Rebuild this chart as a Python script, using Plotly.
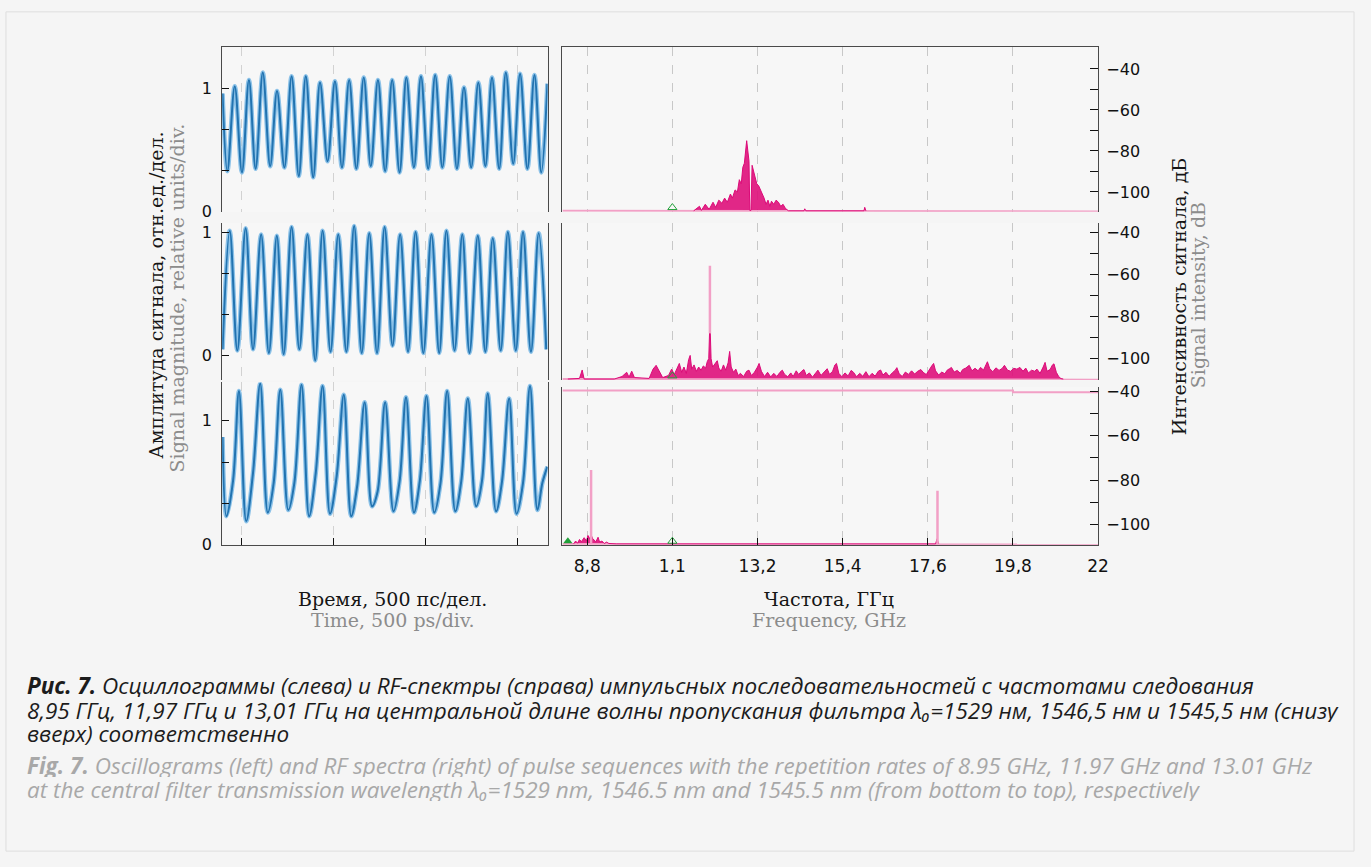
import plotly.graph_objects as go

W, H = 1371, 867

# ---------------- data ----------------
# Oscillograms (time in ps, amplitude in relative units) - extrema
TOP_T = [-100, -74, -34, 5, 43, 79, 118, 158, 195, 235, 274, 313, 351, 391, 428, 469, 509, 547, 586, 625,
         665, 703, 742, 781, 819, 859, 896, 937, 975, 1014, 1052, 1091, 1131, 1170, 1208, 1247, 1286, 1324,
         1360, 1399, 1435, 1475, 1512, 1552, 1590, 1627, 1660]
TOP_V = [0.96, 0.33, 1.02, 0.32, 1.07, 0.35, 1.13, 0.37, 0.98, 0.36, 1.10, 0.29, 1.10, 0.28, 1.05, 0.41,
         1.06, 0.36, 1.07, 0.35, 1.09, 0.37, 1.07, 0.33, 1.07, 0.32, 1.09, 0.36, 1.10, 0.35, 1.11, 0.36,
         1.10, 0.35, 1.01, 0.36, 1.05, 0.37, 1.09, 0.35, 1.13, 0.39, 1.12, 0.35, 1.11, 0.32, 1.04]

MID_T = [-100, -61, -20, 25, 65, 109, 151, 194, 231, 274, 316, 360, 402, 442, 485, 527, 571, 613, 654,
         695, 737, 778, 821, 862, 905, 946, 988, 1032, 1074, 1113, 1157, 1199, 1238, 1283, 1324, 1364,
         1407, 1446, 1489, 1528, 1571, 1613, 1654]
MID_V = [0.05, 1.01, 0.04, 1.03, 0.05, 0.98, 0.02, 0.97, 0.01, 1.04, 0.05, 0.98, -0.04, 1.01, 0.03, 0.98,
         0.03, 1.05, 0.02, 0.99, 0.02, 1.04, 0.08, 0.98, 0.03, 1.00, 0.02, 0.98, 0.02, 1.01, 0.04, 0.98,
         0.02, 0.97, 0.03, 0.95, 0.04, 1.00, 0.04, 1.00, 0.03, 0.99, 0.05]

BOT_T = [-100, -79, -43, -11, 28, 65, 104, 145, 177, 213, 256, 289, 328, 369, 405, 442, 482, 518, 557,
         597, 629, 670, 710, 740, 781, 826, 859, 894, 937, 969, 1005, 1047, 1081, 1117, 1161, 1193, 1229,
         1274, 1306, 1337, 1382, 1414, 1453, 1493, 1528, 1566, 1606, 1633, 1660]
BOT_V = [0.87, 0.23, 0.52, 1.24, 0.19, 0.58, 1.30, 0.26, 0.50, 1.25, 0.28, 0.50, 1.29, 0.23, 0.58, 1.28,
         0.25, 0.55, 1.21, 0.23, 0.47, 1.15, 0.31, 0.43, 1.15, 0.27, 0.51, 1.19, 0.26, 0.52, 1.20, 0.26,
         0.50, 1.24, 0.27, 0.51, 1.18, 0.31, 0.52, 1.22, 0.27, 0.51, 1.18, 0.25, 0.50, 1.28, 0.28, 0.50, 0.63]

TIME_TICKS = [0, 500, 1000, 1500]

# RF spectra (frequency GHz, level dB)
FREQ_TICKS = [8.8, 11.0, 13.2, 15.4, 17.6, 19.8, 22.0]
FREQ_TICKTEXT = ["8,8", "1,1", "13,2", "15,4", "17,6", "19,8", "22"]
DB_TICKS = [-40, -50, -60, -70, -80, -90, -100]
DB_TICKTEXT = ["\u221240", " ", "\u221260", " ", "\u221280", " ", "\u2212100"]

FLOOR_TOP, FLOOR_MID, FLOOR_BOT = -109.2, -109.7, -108.8

TOP_F = [11.55, 11.70, 11.75, 11.85, 11.95, 12.05, 12.12, 12.20, 12.28, 12.35, 12.42, 12.50, 12.55, 12.62,
         12.68, 12.73, 12.78, 12.82, 12.86, 12.89, 12.92, 12.95, 12.98, 13.00, 13.03, 13.06, 13.10, 13.14,
         13.18, 13.23, 13.28, 13.33, 13.37, 13.42, 13.47, 13.52, 13.56, 13.62, 13.68, 13.74, 13.80, 13.86,
         13.92, 14.00, 14.40, 14.42, 14.45, 15.95, 15.97, 16.00]
TOP_DB = [-109.2, -107, -109, -106, -108.5, -105, -107.5, -104, -105.5, -103, -105, -101, -103, -99,
          -100, -94, -96, -88, -86, -80, -75, -80, -85, -109, -109, -87, -90, -92,
          -96, -97, -99, -101, -103, -106, -104, -107, -104.5, -106, -104, -105, -107, -106,
          -108, -109.2, -109.2, -108.2, -109.2, -109.2, -107.5, -109.2]

MID_F = [8.30, 8.60, 8.67, 8.72, 9.50, 9.70, 9.82, 9.88, 9.95, 10.02, 10.40, 10.50, 10.58, 10.66, 10.75,
         10.90, 10.98, 11.05, 11.12, 11.18, 11.24, 11.30, 11.36, 11.42, 11.46, 11.50, 11.56, 11.62, 11.68,
         11.74, 11.80, 11.86, 11.90, 11.94, 11.96, 11.98, 12.00, 12.04, 12.10, 12.16, 12.20, 12.26, 12.32,
         12.38, 12.44, 12.48, 12.52, 12.58, 12.64, 12.70, 12.76, 12.84, 12.92, 12.98, 13.04, 13.12, 13.20,
         13.24, 13.30, 13.38, 13.46, 13.54, 13.62, 13.70, 13.78, 13.84, 13.90, 13.98, 14.06, 14.12, 14.20,
         14.26, 14.34, 14.40, 14.46, 14.54, 14.62, 14.70, 14.76, 14.84, 14.92, 15.00, 15.06, 15.14, 15.20,
         15.24, 15.30, 15.38, 15.46, 15.54, 15.62, 15.68, 15.76, 15.84, 15.92, 16.00, 16.08, 16.16, 16.24,
         16.32, 16.38, 16.44, 16.52, 16.60, 16.68, 16.76, 16.80, 16.86, 16.94, 17.02, 17.10, 17.18, 17.26,
         17.34, 17.42, 17.48, 17.56, 17.64, 17.70, 17.75, 17.80, 17.88, 17.96, 18.04, 18.10, 18.16, 18.21,
         18.28, 18.36, 18.44, 18.50, 18.58, 18.67, 18.74, 18.82, 18.90, 18.96, 19.04, 19.10, 19.14, 19.20,
         19.28, 19.36, 19.44, 19.52, 19.58, 19.66, 19.74, 19.82, 19.90, 19.98, 20.06, 20.13, 20.20, 20.28,
         20.36, 20.42, 20.50, 20.58, 20.63, 20.68, 20.76, 20.82, 20.86, 20.92, 20.98, 21.04, 21.10]
MID_DB = [-109.7, -109.4, -105.4, -109.7, -109.7, -108.5, -106.5, -108.8, -106, -109, -109.4, -105, -103.2,
          -106, -109, -108, -105, -107.5, -104.5, -102.3, -106.5, -104, -107, -100.5, -98.5, -105, -103,
          -106, -104, -105.5, -103.5, -104.5, -101.5, -100, -88, -88, -100, -104, -102.5, -101, -104.5,
          -106, -103, -105.5, -102, -96.6, -104, -106.5, -105, -108, -107, -108.5, -106, -105.5, -108,
          -106.5, -104, -102.3, -106, -108.5, -106.5, -108.7, -107, -108.5, -106.5, -105.5, -107.5, -108.6,
          -106.8, -108.5, -105.8, -107.5, -106, -105.2, -108, -106.8, -108.8, -107, -105.5, -108, -106.5,
          -104.8, -107.5, -106, -103, -102.3, -107, -108.6, -106.8, -108.2, -105.6, -106.5, -108.6, -107,
          -108.4, -106.2, -108.6, -107, -108.3, -106, -105.4, -107.8, -106.5, -108.4, -106.8, -105.5,
          -104.3, -107.2, -108.5, -106.4, -107.5, -105.8, -107.3, -106, -105.2, -106.5, -107.6, -105,
          -103.5, -102.3, -105.8, -107.8, -106.4, -107.2, -105.5, -104.8, -104.2, -106.4, -105.6, -107,
          -105.2, -104.5, -103.2, -105.8, -104.6, -105.8, -104.2, -105.4, -103.2, -101.5, -104.8, -106.2,
          -104.4, -105.6, -104.7, -103.2, -105.5, -106, -104.6, -105, -104.2, -106, -104.5, -106.8, -105.5,
          -106, -105, -107, -104, -101.8, -106, -105.2, -103, -102.5, -106.5, -108.5, -109.5, -109.7]

BOT_F = [8.45, 8.50, 8.55, 8.60, 8.65, 8.72, 8.78, 8.82, 8.86, 8.90, 8.94, 8.98, 9.02, 9.08, 9.12, 9.18,
         9.24, 9.30, 9.36, 9.45, 9.55, 17.80, 17.84, 17.88]
BOT_DB = [-108.8, -107.5, -108.5, -106.8, -107.8, -106, -107.5, -105, -106.5, -104.6, -106.5, -107, -108,
          -105.8, -108, -107.5, -108.6, -108, -108.6, -108.8, -108.8, -108.8, -106.5, -108.8]

# narrow spectral lines (light pink)
MID_SPIKE_F, MID_SPIKE_DB = [11.97], [-56]
BOT_SPIKE_F, BOT_SPIKE_DB = [8.90, 17.85], [-75.4, -84.8]

# pink trace segments at the panel rims (step at 19.8 GHz)
RIM_F = [8.16, 19.8, 19.8, 22.0]
TOP_RIM_DB = [FLOOR_TOP, FLOOR_TOP, FLOOR_TOP - 0.3, FLOOR_TOP - 0.3]
MID_RIM_DB = [FLOOR_MID, FLOOR_MID, FLOOR_MID - 0.3, FLOOR_MID - 0.3]
BOT_RIM_DB = [FLOOR_BOT, FLOOR_BOT, FLOOR_BOT - 0.3, FLOOR_BOT - 0.3]
BOT_TOPLINE_DB = [-39.6, -39.6, -40.3, -40.3]

# markers (green triangles)
OPEN_MARK_F = [11.0]
TOP_MARK_DB, MID_MARK_DB, BOT_MARK_DB = [-107.6], [-108.2], [-107.6]
BOT_FILLED_F, BOT_FILLED_DB = [8.30], [-107.6]

# ---------------- figure ----------------
BLUE, BLUE_GLOW = "#2273b0", "#8cc2e8"
PINK, PINK_LIGHT = "#dc0a78", "#f2a0c6"
GREEN = "#22a03a"
AX = "#4a4a4a"

fig = go.Figure()


def wave(t, v, n):
    fig.add_trace(go.Scatter(x=t, y=v, xaxis="x%d" % n, yaxis="y%d" % n, mode="lines",
                             line=dict(color=BLUE_GLOW, width=4.5, shape="spline", smoothing=1.0),
                             hoverinfo="skip", showlegend=False))
    fig.add_trace(go.Scatter(x=t, y=v, xaxis="x%d" % n, yaxis="y%d" % n, mode="lines",
                             line=dict(color=BLUE, width=2, shape="spline", smoothing=1.0),
                             showlegend=False))


wave(TOP_T, TOP_V, 1)
wave(MID_T, MID_V, 2)
wave(BOT_T, BOT_V, 3)


def spectrum(f, db, rim_db, n):
    fig.add_trace(go.Scatter(x=RIM_F, y=rim_db, xaxis="x%d" % n, yaxis="y%d" % n, mode="lines",
                             line=dict(color=PINK_LIGHT, width=2), showlegend=False, hoverinfo="skip"))
    fig.add_trace(go.Scatter(x=f, y=db, xaxis="x%d" % n, yaxis="y%d" % n, mode="lines",
                             line=dict(color=PINK, width=1), fill="tonexty",
                             fillcolor="rgba(222,16,122,0.9)", showlegend=False))


spectrum(TOP_F, TOP_DB, TOP_RIM_DB, 4)
spectrum(MID_F, MID_DB, MID_RIM_DB, 5)
spectrum(BOT_F, BOT_DB, BOT_RIM_DB, 6)


def spikes(fs, dbs, floor, n):
    xs, ys = [], []
    for f, d in zip(fs, dbs):
        xs += [f, f, None]
        ys += [floor, d, None]
    fig.add_trace(go.Scatter(x=xs, y=ys, xaxis="x%d" % n, yaxis="y%d" % n, mode="lines",
                             line=dict(color=PINK_LIGHT, width=2.5), showlegend=False))


spikes(MID_SPIKE_F, MID_SPIKE_DB, -88, 5)
spikes(BOT_SPIKE_F, BOT_SPIKE_DB, FLOOR_BOT, 6)

fig.add_trace(go.Scatter(x=RIM_F, y=BOT_TOPLINE_DB, xaxis="x6", yaxis="y6", mode="lines",
                         line=dict(color=PINK_LIGHT, width=2), showlegend=False))

for n, dbs in ((4, TOP_MARK_DB), (5, MID_MARK_DB), (6, BOT_MARK_DB)):
    fig.add_trace(go.Scatter(x=OPEN_MARK_F, y=dbs, xaxis="x%d" % n, yaxis="y%d" % n, mode="markers",
                             marker=dict(symbol="triangle-up-open", size=8, color=GREEN, line=dict(width=1)),
                             showlegend=False, cliponaxis=False))
fig.add_trace(go.Scatter(x=BOT_FILLED_F, y=BOT_FILLED_DB, xaxis="x6", yaxis="y6", mode="markers",
                         marker=dict(symbol="triangle-up", size=8, color=GREEN), showlegend=False,
                         cliponaxis=False))


def fx(p):
    return p / W


def fy(p):
    return 1 - p / H


TICKF = dict(family="DejaVu Sans", size=16, color="#111")
LEFT_X = [fx(224), fx(552)]
RIGHT_X = [fx(567), fx(1107)]

common_x_left = dict(range=[-102, 1661], tickvals=TIME_TICKS, showticklabels=False, showgrid=True,
                     gridcolor="#d2d2d2", griddash="dash", gridwidth=1, zeroline=False, domain=LEFT_X,
                     linecolor=AX, linewidth=1)
common_x_right = dict(range=[8.16, 22.0], tickvals=FREQ_TICKS[:-1], showticklabels=False, showgrid=True,
                      gridcolor="#c8c8c8", griddash="dash", gridwidth=1, zeroline=False, domain=RIGHT_X,
                      linecolor=AX, linewidth=1)
left_y = dict(tickvals=[0, 1 / 3, 2 / 3, 1], ticktext=["0", " ", " ", "1"], ticks="inside", ticklen=7,
              tickcolor="#111", showgrid=False, zeroline=False, showline=True, linecolor=AX, linewidth=1,
              mirror=True, tickfont=TICKF, ticklabelstandoff=6)
right_y = dict(tickvals=DB_TICKS, ticktext=DB_TICKTEXT, ticks="inside", ticklen=8, tickcolor="#111",
               showgrid=False, zeroline=False, showline=True, linecolor=AX, linewidth=1, mirror=True,
               side="right", tickfont=TICKF, ticklabelstandoff=4)

layout = dict(
    width=W, height=H, margin=dict(l=0, r=0, t=0, b=0),
    paper_bgcolor="#f5f5f5", plot_bgcolor="#f7f7f7", showlegend=False,
    xaxis=dict(common_x_left, anchor="y", side="top", showline=True, ticks=""),
    xaxis2=dict(common_x_left, anchor="y2", showline=False, ticks=""),
    xaxis3=dict(common_x_left, anchor="y3", showline=True, ticks="inside", ticklen=7, tickcolor="#111"),
    xaxis4=dict(common_x_right, anchor="y4", side="top", showline=True, ticks=""),
    xaxis5=dict(common_x_right, anchor="y5", showline=False, ticks=""),
    xaxis6=dict(common_x_right, anchor="y6", showline=True, ticks="inside", ticklen=7, tickcolor="#111",
                tickvals=FREQ_TICKS, ticktext=FREQ_TICKTEXT, showticklabels=True,
                tickfont=dict(family="DejaVu Sans", size=17, color="#111"), ticklabelstandoff=6),
    yaxis=dict(left_y, anchor="x", range=[0, 1.338], domain=[fy(210.5), fy(42.7)]),
    yaxis2=dict(left_y, anchor="x2", range=[-0.199, 1.072], domain=[fy(381.7), fy(222)]),
    yaxis3=dict(left_y, anchor="x3", range=[0, 1.31], domain=[fy(549.3), fy(384)]),
    yaxis4=dict(right_y, anchor="x4", range=[-109.7, -29.3], domain=[fy(210.5), fy(42.7)]),
    yaxis5=dict(right_y, anchor="x5", range=[-110.2, -35.8], domain=[fy(381.7), fy(222)]),
    yaxis6=dict(right_y, anchor="x6", range=[-109.2, -38.1], domain=[fy(549.3), fy(389)]),
)
fig.update_layout(**layout)

SERIF = "DejaVu Serif"
BLACK, GRAY = "#151515", "#8c8c8c"
ann = []


def txt(s, x, y, color, size=19, family=SERIF, angle=0, xanchor="center", height=None):
    a = dict(text=s, x=fx(x), y=fy(y), xref="paper", yref="paper", showarrow=False,
             textangle=angle, xanchor=xanchor, yanchor="middle",
             font=dict(family=family, size=size, color=color))
    if height:
        a["height"] = height
    ann.append(a)


txt("Время, 500 пс/дел.", 396, 604, BLACK)
txt("Time, 500 ps/div.", 396, 626, GRAY)
txt("Частота, ГГц", 836, 604, BLACK)
txt("Frequency, GHz", 836, 626, GRAY)
txt("Амплитуда сигнала, отн.ед./дел.", 157, 295, BLACK, angle=-90)
txt("Signal magnitude, relative units/div.", 178, 298, GRAY, angle=-90)
txt("Интенсивность сигнала, дБ", 1188, 296, BLACK, angle=-90)
txt("Signal intensity, dB", 1208, 295, GRAY, angle=-90)

CAP = "Open Sans"
CAPS = 22.5
CAP_BLACK, CAP_GRAY = "#1c1c1c", "#a8a8a8"
txt("<i><b>Рис. 7.</b> Осциллограммы (слева) и RF-спектры (справа) импульсных последовательностей "
    "с частотами следования</i>", 25, 692, CAP_BLACK, size=CAPS, family=CAP, xanchor="left", height=24)
txt("<i>8,95 ГГц, 11,97 ГГц и 13,01 ГГц на центральной длине волны пропускания фильтра "
    "λ\u2080=1529 нм, 1546,5 нм и 1545,5 нм (снизу</i>", 25, 717, CAP_BLACK, size=CAPS, family=CAP,
    xanchor="left", height=24)
txt("<i>вверх) соответственно</i>", 25, 741, CAP_BLACK, size=CAPS, family=CAP, xanchor="left", height=24)
txt("<i><b>Fig. 7.</b> Oscillograms (left) and RF spectra (right) of pulse sequences with the repetition "
    "rates of 8.95 GHz, 11.97 GHz and 13.01 GHz</i>", 25, 773, CAP_GRAY, size=CAPS, family=CAP,
    xanchor="left", height=24)
txt("<i>at the central filter transmission wavelength λ\u2080=1529 nm, 1546.5 nm and 1545.5 nm "
    "(from bottom to top), respectively</i>", 25, 798, CAP_GRAY, size=CAPS, family=CAP, xanchor="left",
    height=24)

fig.update_layout(annotations=ann)
fig.add_shape(type="rect", xref="paper", yref="paper", x0=fx(6), x1=fx(1365), y0=fy(861), y1=fy(7),
              line=dict(color="#dedede", width=1), fillcolor="rgba(0,0,0,0)", layer="below")

fig.write_html("out.html")
